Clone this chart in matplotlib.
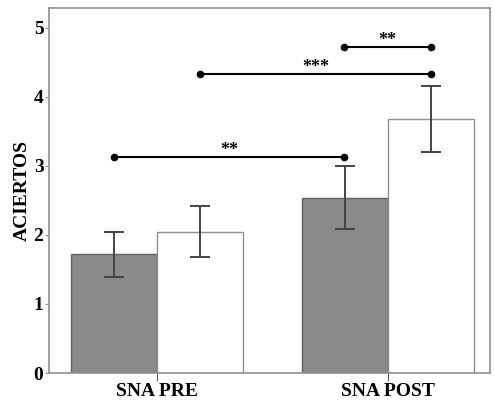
import matplotlib.pyplot as plt
import numpy as np

plt.rcParams['font.family'] = ['Liberation Serif', 'DejaVu Serif']
plt.rcParams['font.weight'] = 'bold'

# data
groups = ['SNA PRE', 'SNA POST']
dark_means = [1.72, 2.54]
dark_err = [0.33, 0.46]
white_means = [2.05, 3.68]
white_err = [0.37, 0.48]

# significance brackets: (x1, x2, y, label)
sig_lines = [
    (-0.186, 0.81, 3.13, '**'),
    (0.186, 1.186, 4.33, '***'),
    (0.81, 1.186, 4.73, '**'),
]

fig = plt.figure(figsize=(4.95, 4.03), dpi=100)
ax = fig.add_axes([0.099, 0.0744, 0.891, 0.906])

x = np.arange(len(groups))
w = 0.372
edge = '#606060'
ax.bar(x - w / 2, dark_means, w, color='#8a8a8a', edgecolor=edge, linewidth=1.0)
ax.bar(x + w / 2, white_means, w, color='white', edgecolor='#909090', linewidth=1.0)
ax.errorbar(x - w / 2, dark_means, yerr=dark_err, fmt='none', ecolor='#444444',
            elinewidth=1.4, capsize=7, capthick=1.4)
ax.errorbar(x + w / 2, white_means, yerr=white_err, fmt='none', ecolor='#444444',
            elinewidth=1.4, capsize=7, capthick=1.4)

for x1, x2, y, lab in sig_lines:
    ax.plot([x1, x2], [y, y], color='black', lw=1.5, marker='o', markersize=4.5)
    ax.text((x1 + x2) / 2, y + 0.09, lab, ha='center', va='center', fontsize=13, fontweight='bold')

ax.set_xlim(-0.468, 1.442)
ax.set_ylim(0, 5.29)
ax.set_xticks(x)
ax.set_xticklabels(groups, fontsize=14, fontweight='bold')
ax.set_yticks([0, 1, 2, 3, 4, 5])
ax.set_yticklabels(['0', '1', '2', '3', '4', '5'], fontsize=14, fontweight='bold')
ax.set_ylabel('ACIERTOS', fontsize=14, fontweight='bold', labelpad=2)

for s in ax.spines.values():
    s.set_color('#909090')
    s.set_linewidth(1.2)
ax.tick_params(axis='y', length=3, color='#909090', pad=1)
ax.tick_params(axis='x', length=6, color='#606060', pad=1)

fig.savefig('out.png', dpi=100)
